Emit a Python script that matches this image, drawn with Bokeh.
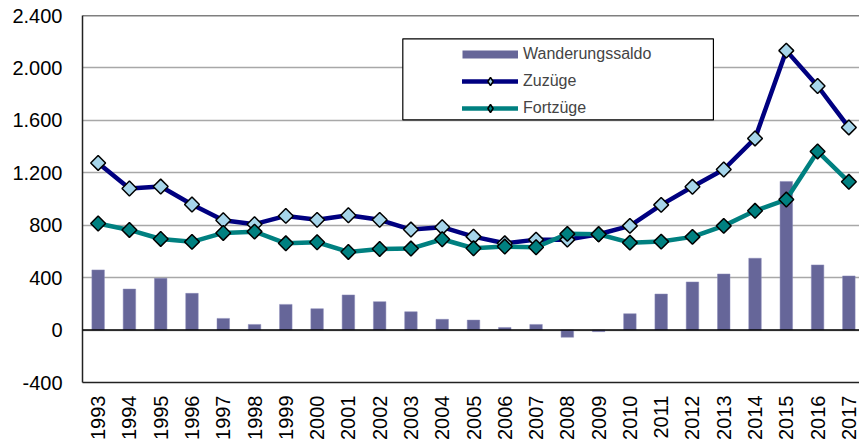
import math
from bokeh.plotting import figure
from bokeh.models import Range1d, FixedTicker, Span, BoxAnnotation, Legend, LegendItem
from bokeh.embed import file_html
from bokeh.resources import INLINE

years = list(range(1993, 2018))
year_labels = [str(y) for y in years]
zuzuege = [1275, 1080, 1095, 958, 838, 808, 871, 841, 876, 841, 767, 785, 713,
           662, 690, 690, 731, 795, 955, 1093, 1225, 1462, 2132, 1862, 1546]
fortzuege = [813, 764, 695, 673, 741, 751, 662, 670, 596, 619, 622, 693, 624,
             637, 632, 734, 731, 667, 675, 711, 795, 910, 996, 1363, 1131]
saldo = [459, 313, 395, 280, 89, 43, 196, 163, 268, 217, 140, 82, 76,
         20, 43, -55, -12, 125, 275, 367, 428, 548, 1134, 497, 413]
y_ticks = [-400, 0, 400, 800, 1200, 1600, 2000, 2400]
y_tick_labels = ["-400", "0", "400", "800", "1.200", "1.600", "2.000", "2.400"]

FONT = "Liberation Sans"
NAVY = "#000080"
TEAL = "#008080"
BAR = "#666699"
LIGHT = "#A6D5EA"

p = figure(width=859, height=443, output_backend="svg", toolbar_location=None,
           x_range=Range1d(1992.5, 2017.34), y_range=Range1d(-400, 2400),
           min_border_left=82, min_border_right=0, min_border_top=15,
           min_border_bottom=61)
p.outline_line_color = None
p.background_fill_color = "white"

# axes
p.yaxis.ticker = FixedTicker(ticks=y_ticks)
p.yaxis.major_label_overrides = {t: l for t, l in zip(y_ticks, y_tick_labels)}
p.yaxis.major_label_text_font = FONT
p.yaxis.major_label_text_font_size = "20px"
p.yaxis.major_label_text_color = "black"
p.yaxis.major_tick_line_color = None
p.yaxis.minor_tick_line_color = None
p.yaxis.major_tick_out = 0
p.yaxis.major_tick_in = 0
p.yaxis.minor_tick_out = 0
p.yaxis.major_label_standoff = 20
p.yaxis.axis_line_color = "#222222"
p.yaxis.axis_line_width = 1.5

p.xaxis.ticker = FixedTicker(ticks=years)
p.xaxis.major_label_overrides = {y: l for y, l in zip(years, year_labels)}
p.xaxis.major_label_orientation = math.pi / 2
p.xaxis.major_label_text_font = FONT
p.xaxis.major_label_text_font_size = "20px"
p.xaxis.major_label_text_color = "black"
p.xaxis.major_tick_line_color = None
p.xaxis.minor_tick_line_color = None
p.xaxis.major_tick_out = 0
p.xaxis.major_tick_in = 0
p.xaxis.minor_tick_out = 0
p.xaxis.major_label_standoff = 13
p.xaxis.axis_line_color = "#222222"
p.xaxis.axis_line_width = 1.5

p.xgrid.visible = False
p.ygrid.ticker = FixedTicker(ticks=y_ticks)
p.ygrid.grid_line_color = "#A8A8A8"
p.ygrid.grid_line_width = 1.5

p.add_layout(Span(location=0, dimension="width", line_color="black", line_width=1.5))
p.add_layout(Span(location=2400, dimension="width", line_color="black", line_width=1.5))

# data
bars = p.vbar(x=years, top=saldo, bottom=0, width=0.4, fill_color=BAR,
              line_color="#8a8ab8", line_width=0.5)
l_zu = p.line(years, zuzuege, line_color=NAVY, line_width=4.5,
              line_join="round", line_cap="round")
l_fo = p.line(years, fortzuege, line_color=TEAL, line_width=4.5,
              line_join="round", line_cap="round")
m_zu = p.scatter(years, zuzuege, marker="square", size=10.5, angle=math.pi / 4,
                 fill_color=LIGHT, line_color="black", line_width=1.5)
m_fo = p.scatter(years, fortzuege, marker="square", size=10.5, angle=math.pi / 4,
                 fill_color=TEAL, line_color="black", line_width=1.5)

# legend box
box = BoxAnnotation(left=2002.74, right=2012.67, top=2222, bottom=1603,
                    fill_color="white", fill_alpha=1.0, line_color="black",
                    line_width=1.2, line_alpha=1.0)
p.add_layout(box)

# legend proxies (drawn only in the legend)
nan = float("nan")
bar_proxy = p.line(x=[nan], y=[nan], line_color=BAR, line_width=8, line_cap="butt")
zu_mark_proxy = p.scatter(x=[nan], y=[nan], marker="diamond", size=1,
                          fill_color=LIGHT, line_color="black", line_width=1.5)
fo_mark_proxy = p.scatter(x=[nan], y=[nan], marker="diamond", size=1,
                          fill_color=TEAL, line_color="black", line_width=1.5)

legend = Legend(items=[
    LegendItem(label="Wanderungssaldo", renderers=[bar_proxy]),
    LegendItem(label="Zuzüge", renderers=[l_zu, zu_mark_proxy]),
    LegendItem(label="Fortzüge", renderers=[l_fo, fo_mark_proxy]),
], location=(380, 264), padding=4, spacing=7, glyph_width=56, glyph_height=20,
    label_height=20, label_standoff=5, label_text_font=FONT,
    label_text_font_size="16px", background_fill_alpha=0,
    border_line_color=None, margin=0)
p.add_layout(legend, "center")

open("out.html", "w").write(file_html(p, INLINE))
